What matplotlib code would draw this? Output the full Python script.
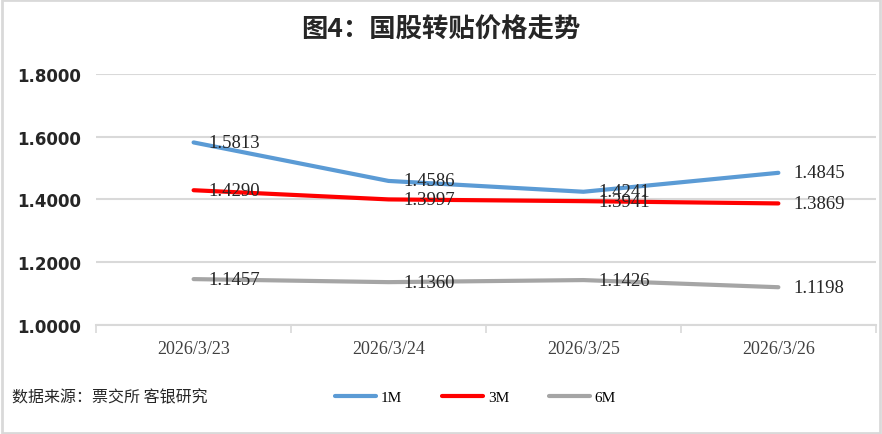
import matplotlib.pyplot as plt
import matplotlib.patches as patches

plt.rcParams['font.family'] = ['Noto Sans CJK SC', 'DejaVu Sans']

dates = ['2026/3/23', '2026/3/24', '2026/3/25', '2026/3/26']
m1 = [1.5813, 1.4586, 1.4241, 1.4845]
m3 = [1.4290, 1.3997, 1.3941, 1.3869]
m6 = [1.1457, 1.1360, 1.1426, 1.1198]
series = [('1M', m1, '#5b9bd5'), ('3M', m3, '#ff0000'), ('6M', m6, '#a5a5a5')]
yticks = [1.0, 1.2, 1.4, 1.6, 1.8]

serif = ['Liberation Serif', 'DejaVu Serif']

fig = plt.figure(figsize=(8.82, 4.35), dpi=100)
ax = fig.add_axes([0.109, 0.251, 0.884, 0.577])

x = list(range(len(dates)))
for name, vals, col in series:
    ax.plot(x, vals, color=col, lw=3, label=name, solid_capstyle='round')
    for xi, v in zip(x, vals):
        ax.text(xi + 0.075, v, f'{v:.4f}', ha='left', va='center',
                fontsize=13.5, family=serif, color='#262626')

ax.set_xlim(-0.5, len(dates) - 0.5)
ax.set_ylim(1.0, 1.8)
ax.set_yticks(yticks)
ax.set_yticklabels([f'{t:.4f}' for t in yticks], fontsize=12, fontweight='bold',
                   family=['Liberation Sans Narrow', 'DejaVu Sans'], color='#262626')
ax.yaxis.grid(True, color='#d9d9d9', lw=1.5)
ax.set_axisbelow(True)
ax.tick_params(axis='y', length=0, pad=11)

ax.set_xticks(x)
ax.set_xticklabels(dates, fontsize=13, family=serif, color='#404040')
ax.set_xticks([i + 0.5 for i in range(-1, len(dates))], minor=True)
ax.tick_params(axis='x', which='major', length=0, pad=11)
ax.tick_params(axis='x', which='minor', length=6, color='#d9d9d9', width=1.2)

for s in ['top', 'right', 'left']:
    ax.spines[s].set_visible(False)
ax.spines['bottom'].set_color('#d9d9d9')
ax.spines['bottom'].set_linewidth(1.5)

fig.text(0.5, 0.93, '图4：国股转贴价格走势', ha='center', va='center',
         fontsize=19, fontweight='bold', color='#262626')
fig.text(0.014, 0.085, '数据来源：票交所 客银研究', ha='left', va='center',
         fontsize=11.5, color='#262626')

leg = fig.legend(loc='center', bbox_to_anchor=(0.539, 0.085), ncol=3, frameon=False,
                 prop={'family': serif, 'size': 11}, handlelength=2.7,
                 columnspacing=2.6, handletextpad=0.3)

fig.patches.append(patches.Rectangle((0.002, 0.003), 0.996, 0.994, transform=fig.transFigure,
                                     fill=False, edgecolor='#d9d9d9', lw=2))

fig.savefig('out.png', dpi=100)
